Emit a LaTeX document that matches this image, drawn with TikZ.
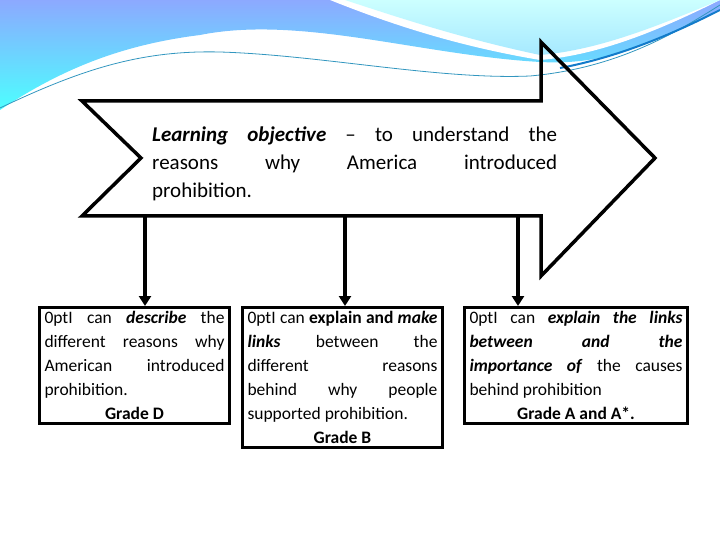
\documentclass[tikz,border=0pt]{standalone}
\usepackage{fontspec}
\setmainfont{Carlito}
\usetikzlibrary{arrows.meta}
\begin{document}
\begin{tikzpicture}[x=1pt,y=-1pt,
  bigarrow/.style={draw=black,line width=3.5pt,line join=miter},
  conn/.style={draw=black,line width=3.5pt,-{Triangle[length=10pt,width=12pt]}},
  boxtxt/.style={draw=black,line width=3pt,inner xsep=5pt,inner ysep=4pt,anchor=north west,text width=#1,align=justify,font=\fontsize{17.5}{24}\selectfont\hyphenpenalty=10000 }]
\useasboundingbox (0,0) rectangle (720,540);
% background waves
\shade[top color=cyan!25!blue!45!white,bottom color=cyan!70!white] (0,0) -- (720,0) -- (720,10) .. controls (640,50) and (600,65) .. (540,62) .. controls (420,55) and (300,15) .. (200,35) .. controls (120,45) and (60,70) .. (0,110) -- cycle;
\fill[white] (330,0) .. controls (380,20) and (450,45) .. (540,60) .. controls (600,55) and (660,30) .. (720,0) -- cycle;
\shade[top color=cyan!20!white,bottom color=blue!25!cyan!35!white] (345,0) .. controls (400,18) and (460,38) .. (540,55) .. controls (600,50) and (660,25) .. (720,0) -- cycle;
\draw[cyan!50!teal,line width=0.8pt] (0,108) .. controls (80,70) and (140,50) .. (220,52) .. controls (320,55) and (440,80) .. (530,76) .. controls (620,68) and (680,30) .. (720,5);
\draw[cyan!60!blue,line width=2pt] (560,68) .. controls (630,55) and (690,25) .. (720,10);
% big arrow
\draw[bigarrow] (82,101) -- (541,101) -- (541,42) -- (655,158) -- (541,276) -- (541,216) -- (82,216) -- (141,158) -- cycle;
\node[anchor=north west,text width=405pt,align=justify,inner sep=0pt,font=\fontsize{21}{28}\selectfont] (obj) at (152,127)
 {\textbf{\textit{Learning objective}} -- to understand the\linebreak reasons why America introduced\linebreak prohibition.};
% boxes
\node[boxtxt=180pt] (b1) at (38,306) {I can \textbf{\textit{describe}} the\linebreak different reasons why\linebreak American introduced\linebreak prohibition.\par\centering\textbf{Grade D}\par};
\node[boxtxt=190pt] (b2) at (241,306) {I can \textbf{explain and \textit{make}}\linebreak \textbf{\textit{links}} between the\linebreak different reasons\linebreak behind why people\linebreak supported prohibition.\par\centering\textbf{Grade B}\par};
\node[boxtxt=213pt] (b3) at (463,306) {I can \textbf{\textit{explain the links}}\linebreak \textbf{\textit{between and the}}\linebreak \textbf{\textit{importance of}} the causes\linebreak behind prohibition\par\centering\textbf{Grade A and A*.}\par};
\coordinate (s1) at (145,216); \coordinate (s2) at (345,216); \coordinate (s3) at (518,216);
\draw[conn] (s1) -- (s1 |- b1.north);
\draw[conn] (s2) -- (s2 |- b2.north);
\draw[conn] (s3) -- (s3 |- b3.north);
\end{tikzpicture}
\end{document}
